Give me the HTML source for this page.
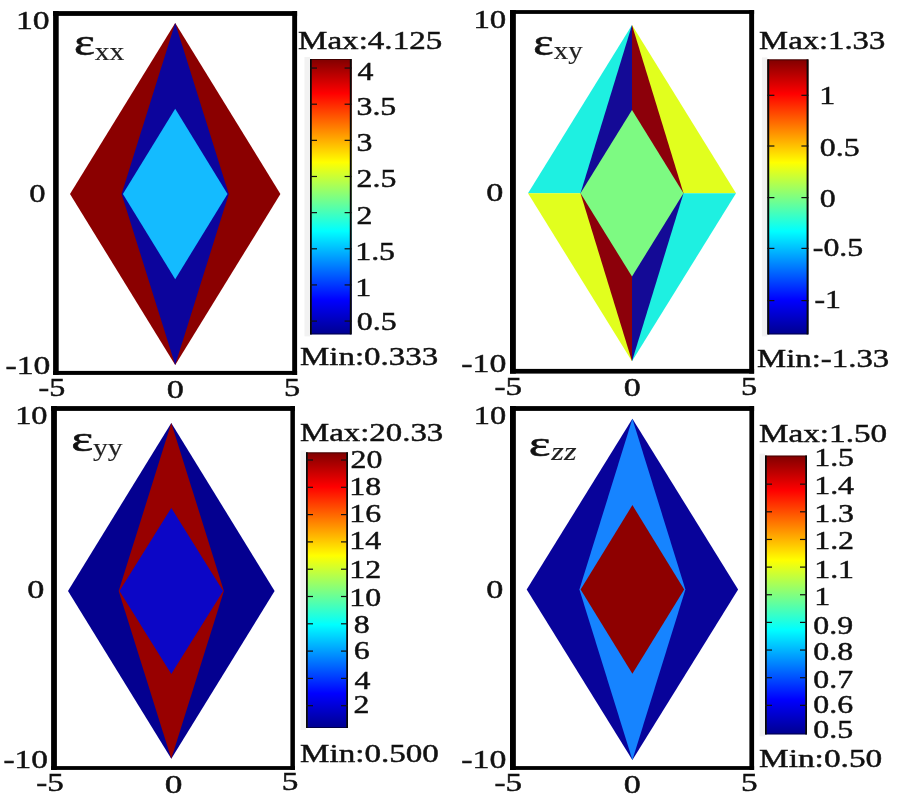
<!DOCTYPE html>
<html><head><meta charset="utf-8"><title>strain maps</title>
<style>html,body{margin:0;padding:0;background:#fff}svg{display:block;font-family:"Liberation Serif",serif}</style>
</head><body>
<svg width="900" height="800" viewBox="0 0 900 800">
<defs><linearGradient id="jet" x1="0" y1="0" x2="0" y2="1">
<stop offset="0" stop-color="#800000"/><stop offset="0.125" stop-color="#ff0000"/><stop offset="0.375" stop-color="#ffff00"/>
<stop offset="0.5" stop-color="#80ff80"/><stop offset="0.625" stop-color="#00ffff"/><stop offset="0.875" stop-color="#0000ff"/><stop offset="1" stop-color="#00008f"/>
</linearGradient></defs>
<rect width="900" height="800" fill="#fff"/>
<rect x="53.10" y="11.10" width="244.00" height="4.80" fill="#000"/>
<rect x="53.10" y="370.90" width="244.00" height="4.00" fill="#000"/>
<rect x="53.10" y="11.10" width="5.60" height="363.80" fill="#000"/>
<rect x="292.20" y="11.10" width="4.90" height="363.80" fill="#000"/>
<rect x="510.00" y="10.10" width="244.10" height="3.80" fill="#000"/>
<rect x="510.00" y="368.90" width="244.10" height="4.70" fill="#000"/>
<rect x="510.00" y="10.10" width="5.85" height="363.50" fill="#000"/>
<rect x="749.20" y="10.10" width="4.90" height="363.50" fill="#000"/>
<rect x="51.10" y="406.10" width="243.80" height="4.80" fill="#000"/>
<rect x="51.10" y="766.10" width="243.80" height="3.80" fill="#000"/>
<rect x="51.10" y="406.10" width="5.80" height="363.80" fill="#000"/>
<rect x="290.40" y="406.10" width="4.50" height="363.80" fill="#000"/>
<rect x="510.00" y="406.10" width="244.10" height="4.80" fill="#000"/>
<rect x="510.00" y="766.10" width="244.10" height="3.80" fill="#000"/>
<rect x="510.00" y="406.10" width="5.85" height="363.80" fill="#000"/>
<rect x="749.40" y="406.10" width="4.70" height="363.80" fill="#000"/>
<polygon points="175.20,23.10 280.40,194.00 175.20,364.90 70.00,194.00" fill="#8b0000"/>
<polygon points="175.20,23.10 228.80,194.00 175.20,364.90 121.60,194.00" fill="#0c049c"/>
<polygon points="175.20,108.80 227.50,194.00 175.20,279.20 122.90,194.00" fill="#14bbff"/>
<polygon points="632.00,25.10 632.00,193.20 528.00,193.20" fill="#1ef0e1"/>
<polygon points="632.00,25.10 736.00,193.20 632.00,193.20" fill="#e1ff1e"/>
<polygon points="632.00,361.30 632.00,193.20 528.00,193.20" fill="#e1ff1e"/>
<polygon points="632.00,361.30 736.00,193.20 632.00,193.20" fill="#1ef0e1"/>
<polygon points="632.00,25.10 632.00,193.20 580.50,193.20" fill="#140a96"/>
<polygon points="632.00,25.10 683.50,193.20 632.00,193.20" fill="#8c000a"/>
<polygon points="632.00,361.30 632.00,193.20 580.50,193.20" fill="#8c000a"/>
<polygon points="632.00,361.30 683.50,193.20 632.00,193.20" fill="#140a96"/>
<polygon points="632.00,109.90 683.50,193.20 632.00,276.50 580.50,193.20" fill="#7dfa82"/>
<polygon points="171.30,423.00 274.60,590.90 171.30,758.80 68.00,590.90" fill="#040090"/>
<polygon points="171.30,423.00 223.90,590.90 171.30,758.80 118.70,590.90" fill="#980000"/>
<polygon points="171.30,507.90 223.10,590.90 171.30,673.90 119.50,590.90" fill="#0c06c6"/>
<polygon points="632.40,418.80 738.10,589.40 632.40,760.00 526.70,589.40" fill="#08039a"/>
<polygon points="632.40,418.80 685.40,589.40 632.40,760.00 579.40,589.40" fill="#1684ff"/>
<polygon points="632.40,505.10 684.20,589.40 632.40,673.70 580.60,589.40" fill="#8e0000"/>
<rect x="304.50" y="57.00" width="5.50" height="279.40" fill="#f2f2f2"/>
<rect x="310.00" y="59.00" width="41.60" height="275.40" fill="url(#jet)"/>
<rect x="310.00" y="59.00" width="1.80" height="275.40" fill="#0c0c0c"/>
<rect x="349.80" y="59.00" width="1.80" height="275.40" fill="#0c0c0c"/>
<rect x="310.45" y="59.45" width="40.70" height="274.50" fill="none" stroke="#000" stroke-opacity="0.55" stroke-width="0.9"/>
<rect x="310.00" y="67.44" width="7.00" height="1.20" fill="#111"/>
<rect x="344.60" y="67.44" width="7.00" height="1.20" fill="#111"/>
<rect x="310.00" y="103.59" width="7.00" height="1.20" fill="#111"/>
<rect x="344.60" y="103.59" width="7.00" height="1.20" fill="#111"/>
<rect x="310.00" y="139.74" width="7.00" height="1.20" fill="#111"/>
<rect x="344.60" y="139.74" width="7.00" height="1.20" fill="#111"/>
<rect x="310.00" y="175.89" width="7.00" height="1.20" fill="#111"/>
<rect x="344.60" y="175.89" width="7.00" height="1.20" fill="#111"/>
<rect x="310.00" y="212.04" width="7.00" height="1.20" fill="#111"/>
<rect x="344.60" y="212.04" width="7.00" height="1.20" fill="#111"/>
<rect x="310.00" y="248.19" width="7.00" height="1.20" fill="#111"/>
<rect x="344.60" y="248.19" width="7.00" height="1.20" fill="#111"/>
<rect x="310.00" y="284.34" width="7.00" height="1.20" fill="#111"/>
<rect x="344.60" y="284.34" width="7.00" height="1.20" fill="#111"/>
<rect x="310.00" y="320.49" width="7.00" height="1.20" fill="#111"/>
<rect x="344.60" y="320.49" width="7.00" height="1.20" fill="#111"/>
<rect x="761.90" y="57.40" width="5.50" height="279.00" fill="#f2f2f2"/>
<rect x="767.40" y="59.40" width="41.00" height="275.00" fill="url(#jet)"/>
<rect x="767.40" y="59.40" width="1.80" height="275.00" fill="#0c0c0c"/>
<rect x="806.60" y="59.40" width="1.80" height="275.00" fill="#0c0c0c"/>
<rect x="767.85" y="59.85" width="40.10" height="274.10" fill="none" stroke="#000" stroke-opacity="0.55" stroke-width="0.9"/>
<rect x="767.40" y="94.70" width="7.00" height="1.20" fill="#111"/>
<rect x="801.40" y="94.70" width="7.00" height="1.20" fill="#111"/>
<rect x="767.40" y="145.40" width="7.00" height="1.20" fill="#111"/>
<rect x="801.40" y="145.40" width="7.00" height="1.20" fill="#111"/>
<rect x="767.40" y="197.00" width="7.00" height="1.20" fill="#111"/>
<rect x="801.40" y="197.00" width="7.00" height="1.20" fill="#111"/>
<rect x="767.40" y="247.80" width="7.00" height="1.20" fill="#111"/>
<rect x="801.40" y="247.80" width="7.00" height="1.20" fill="#111"/>
<rect x="767.40" y="300.00" width="7.00" height="1.20" fill="#111"/>
<rect x="801.40" y="300.00" width="7.00" height="1.20" fill="#111"/>
<rect x="300.50" y="450.40" width="5.50" height="279.60" fill="#f2f2f2"/>
<rect x="306.00" y="452.40" width="42.00" height="275.60" fill="url(#jet)"/>
<rect x="306.00" y="452.40" width="1.80" height="275.60" fill="#0c0c0c"/>
<rect x="346.20" y="452.40" width="1.80" height="275.60" fill="#0c0c0c"/>
<rect x="306.45" y="452.85" width="41.10" height="274.70" fill="none" stroke="#000" stroke-opacity="0.55" stroke-width="0.9"/>
<rect x="306.00" y="705.10" width="7.00" height="1.20" fill="#111"/>
<rect x="341.00" y="705.10" width="7.00" height="1.20" fill="#111"/>
<rect x="306.00" y="677.80" width="7.00" height="1.20" fill="#111"/>
<rect x="341.00" y="677.80" width="7.00" height="1.20" fill="#111"/>
<rect x="306.00" y="650.50" width="7.00" height="1.20" fill="#111"/>
<rect x="341.00" y="650.50" width="7.00" height="1.20" fill="#111"/>
<rect x="306.00" y="623.20" width="7.00" height="1.20" fill="#111"/>
<rect x="341.00" y="623.20" width="7.00" height="1.20" fill="#111"/>
<rect x="306.00" y="595.90" width="7.00" height="1.20" fill="#111"/>
<rect x="341.00" y="595.90" width="7.00" height="1.20" fill="#111"/>
<rect x="306.00" y="568.60" width="7.00" height="1.20" fill="#111"/>
<rect x="341.00" y="568.60" width="7.00" height="1.20" fill="#111"/>
<rect x="306.00" y="541.30" width="7.00" height="1.20" fill="#111"/>
<rect x="341.00" y="541.30" width="7.00" height="1.20" fill="#111"/>
<rect x="306.00" y="514.00" width="7.00" height="1.20" fill="#111"/>
<rect x="341.00" y="514.00" width="7.00" height="1.20" fill="#111"/>
<rect x="306.00" y="486.70" width="7.00" height="1.20" fill="#111"/>
<rect x="341.00" y="486.70" width="7.00" height="1.20" fill="#111"/>
<rect x="306.00" y="459.40" width="7.00" height="1.20" fill="#111"/>
<rect x="341.00" y="459.40" width="7.00" height="1.20" fill="#111"/>
<rect x="759.50" y="453.60" width="5.50" height="282.80" fill="#f2f2f2"/>
<rect x="765.00" y="455.60" width="42.00" height="278.80" fill="url(#jet)"/>
<rect x="765.00" y="455.60" width="1.80" height="278.80" fill="#0c0c0c"/>
<rect x="805.20" y="455.60" width="1.80" height="278.80" fill="#0c0c0c"/>
<rect x="765.45" y="456.05" width="41.10" height="277.90" fill="none" stroke="#000" stroke-opacity="0.55" stroke-width="0.9"/>
<rect x="765.00" y="483.55" width="7.00" height="1.20" fill="#111"/>
<rect x="800.00" y="483.55" width="7.00" height="1.20" fill="#111"/>
<rect x="765.00" y="511.20" width="7.00" height="1.20" fill="#111"/>
<rect x="800.00" y="511.20" width="7.00" height="1.20" fill="#111"/>
<rect x="765.00" y="538.85" width="7.00" height="1.20" fill="#111"/>
<rect x="800.00" y="538.85" width="7.00" height="1.20" fill="#111"/>
<rect x="765.00" y="566.50" width="7.00" height="1.20" fill="#111"/>
<rect x="800.00" y="566.50" width="7.00" height="1.20" fill="#111"/>
<rect x="765.00" y="594.15" width="7.00" height="1.20" fill="#111"/>
<rect x="800.00" y="594.15" width="7.00" height="1.20" fill="#111"/>
<rect x="765.00" y="621.80" width="7.00" height="1.20" fill="#111"/>
<rect x="800.00" y="621.80" width="7.00" height="1.20" fill="#111"/>
<rect x="765.00" y="649.45" width="7.00" height="1.20" fill="#111"/>
<rect x="800.00" y="649.45" width="7.00" height="1.20" fill="#111"/>
<rect x="765.00" y="677.10" width="7.00" height="1.20" fill="#111"/>
<rect x="800.00" y="677.10" width="7.00" height="1.20" fill="#111"/>
<rect x="765.00" y="704.75" width="7.00" height="1.20" fill="#111"/>
<rect x="800.00" y="704.75" width="7.00" height="1.20" fill="#111"/>
<text transform="translate(16.04,28.80) scale(1.330,1)" font-size="25.30" fill="#111" stroke="#111" stroke-width="0.45">10</text>
<text transform="translate(29.36,202.30) scale(1.287,1)" font-size="25.30" fill="#111" stroke="#111" stroke-width="0.45">0</text>
<text transform="translate(5.45,373.70) scale(1.329,1)" font-size="25.30" fill="#111" stroke="#111" stroke-width="0.45">-10</text>
<text transform="translate(473.41,27.50) scale(1.298,1)" font-size="25.30" fill="#111" stroke="#111" stroke-width="0.45">10</text>
<text transform="translate(486.20,201.00) scale(1.352,1)" font-size="25.30" fill="#111" stroke="#111" stroke-width="0.45">0</text>
<text transform="translate(461.25,371.70) scale(1.336,1)" font-size="25.30" fill="#111" stroke="#111" stroke-width="0.45">-10</text>
<text transform="translate(15.15,423.80) scale(1.280,1)" font-size="25.30" fill="#111" stroke="#111" stroke-width="0.45">10</text>
<text transform="translate(27.20,597.50) scale(1.352,1)" font-size="25.30" fill="#111" stroke="#111" stroke-width="0.45">0</text>
<text transform="translate(3.46,768.30) scale(1.320,1)" font-size="25.30" fill="#111" stroke="#111" stroke-width="0.45">-10</text>
<text transform="translate(473.85,423.70) scale(1.280,1)" font-size="25.30" fill="#111" stroke="#111" stroke-width="0.45">10</text>
<text transform="translate(486.20,597.50) scale(1.352,1)" font-size="25.30" fill="#111" stroke="#111" stroke-width="0.45">0</text>
<text transform="translate(461.25,768.30) scale(1.336,1)" font-size="25.30" fill="#111" stroke="#111" stroke-width="0.45">-10</text>
<text transform="translate(38.51,395.60) scale(1.269,1)" font-size="25.30" fill="#111" stroke="#111" stroke-width="0.45">-5</text>
<text transform="translate(166.70,397.70) scale(1.352,1)" font-size="25.30" fill="#111" stroke="#111" stroke-width="0.45">0</text>
<text transform="translate(284.12,395.60) scale(1.276,1)" font-size="25.30" fill="#111" stroke="#111" stroke-width="0.45">5</text>
<text transform="translate(494.57,395.00) scale(1.306,1)" font-size="25.30" fill="#111" stroke="#111" stroke-width="0.45">-5</text>
<text transform="translate(623.71,396.30) scale(1.343,1)" font-size="25.30" fill="#111" stroke="#111" stroke-width="0.45">0</text>
<text transform="translate(741.12,395.00) scale(1.276,1)" font-size="25.30" fill="#111" stroke="#111" stroke-width="0.45">5</text>
<text transform="translate(36.27,790.80) scale(1.306,1)" font-size="25.30" fill="#111" stroke="#111" stroke-width="0.45">-5</text>
<text transform="translate(164.65,793.00) scale(1.399,1)" font-size="25.30" fill="#111" stroke="#111" stroke-width="0.45">0</text>
<text transform="translate(281.67,790.40) scale(1.315,1)" font-size="25.30" fill="#111" stroke="#111" stroke-width="0.45">5</text>
<text transform="translate(494.57,790.80) scale(1.306,1)" font-size="25.30" fill="#111" stroke="#111" stroke-width="0.45">-5</text>
<text transform="translate(623.71,793.00) scale(1.343,1)" font-size="25.30" fill="#111" stroke="#111" stroke-width="0.45">0</text>
<text transform="translate(741.07,791.00) scale(1.315,1)" font-size="25.30" fill="#111" stroke="#111" stroke-width="0.45">5</text>
<text transform="translate(298.05,49.00) scale(1.292,1)" font-size="25.60" fill="#111" stroke="#111" stroke-width="0.45">Max:4.125</text>
<text transform="translate(300.05,365.30) scale(1.287,1)" font-size="25.60" fill="#111" stroke="#111" stroke-width="0.45">Min:0.333</text>
<text transform="translate(759.06,48.60) scale(1.277,1)" font-size="25.60" fill="#111" stroke="#111" stroke-width="0.45">Max:1.33</text>
<text transform="translate(757.05,367.00) scale(1.282,1)" font-size="25.60" fill="#111" stroke="#111" stroke-width="0.45">Min:-1.33</text>
<text transform="translate(300.05,440.70) scale(1.283,1)" font-size="25.60" fill="#111" stroke="#111" stroke-width="0.45">Max:20.33</text>
<text transform="translate(300.05,762.30) scale(1.293,1)" font-size="25.60" fill="#111" stroke="#111" stroke-width="0.45">Min:0.500</text>
<text transform="translate(759.04,441.60) scale(1.297,1)" font-size="25.60" fill="#111" stroke="#111" stroke-width="0.45">Max:1.50</text>
<text transform="translate(759.04,767.00) scale(1.303,1)" font-size="25.60" fill="#111" stroke="#111" stroke-width="0.45">Min:0.50</text>
<text transform="translate(357.38,80.00) scale(1.260,1)" font-size="25.30" fill="#111" stroke="#111" stroke-width="0.45">4</text>
<text transform="translate(356.47,114.60) scale(1.260,1)" font-size="25.30" fill="#111" stroke="#111" stroke-width="0.45">3.5</text>
<text transform="translate(356.47,151.00) scale(1.260,1)" font-size="25.30" fill="#111" stroke="#111" stroke-width="0.45">3</text>
<text transform="translate(356.60,186.50) scale(1.260,1)" font-size="25.30" fill="#111" stroke="#111" stroke-width="0.45">2.5</text>
<text transform="translate(356.60,224.00) scale(1.260,1)" font-size="25.30" fill="#111" stroke="#111" stroke-width="0.45">2</text>
<text transform="translate(355.20,260.20) scale(1.260,1)" font-size="25.30" fill="#111" stroke="#111" stroke-width="0.45">1.5</text>
<text transform="translate(355.20,296.20) scale(1.260,1)" font-size="25.30" fill="#111" stroke="#111" stroke-width="0.45">1</text>
<text transform="translate(356.79,330.00) scale(1.260,1)" font-size="25.30" fill="#111" stroke="#111" stroke-width="0.45">0.5</text>
<text transform="translate(819.20,104.40) scale(1.260,1)" font-size="25.30" fill="#111" stroke="#111" stroke-width="0.45">1</text>
<text transform="translate(819.79,156.40) scale(1.260,1)" font-size="25.30" fill="#111" stroke="#111" stroke-width="0.45">0.5</text>
<text transform="translate(819.79,207.00) scale(1.260,1)" font-size="25.30" fill="#111" stroke="#111" stroke-width="0.45">0</text>
<text transform="translate(812.82,255.50) scale(1.260,1)" font-size="25.30" fill="#111" stroke="#111" stroke-width="0.45">-0.5</text>
<text transform="translate(814.42,308.00) scale(1.260,1)" font-size="25.30" fill="#111" stroke="#111" stroke-width="0.45">-1</text>
<text transform="translate(350.60,468.40) scale(1.260,1)" font-size="25.30" fill="#111" stroke="#111" stroke-width="0.45">20</text>
<text transform="translate(349.20,495.00) scale(1.260,1)" font-size="25.30" fill="#111" stroke="#111" stroke-width="0.45">18</text>
<text transform="translate(349.20,522.40) scale(1.260,1)" font-size="25.30" fill="#111" stroke="#111" stroke-width="0.45">16</text>
<text transform="translate(349.20,549.00) scale(1.260,1)" font-size="25.30" fill="#111" stroke="#111" stroke-width="0.45">14</text>
<text transform="translate(349.20,578.40) scale(1.260,1)" font-size="25.30" fill="#111" stroke="#111" stroke-width="0.45">12</text>
<text transform="translate(349.20,606.20) scale(1.260,1)" font-size="25.30" fill="#111" stroke="#111" stroke-width="0.45">10</text>
<text transform="translate(353.79,633.00) scale(1.260,1)" font-size="25.30" fill="#111" stroke="#111" stroke-width="0.45">8</text>
<text transform="translate(353.63,658.50) scale(1.260,1)" font-size="25.30" fill="#111" stroke="#111" stroke-width="0.45">6</text>
<text transform="translate(354.38,688.50) scale(1.260,1)" font-size="25.30" fill="#111" stroke="#111" stroke-width="0.45">4</text>
<text transform="translate(353.60,713.00) scale(1.260,1)" font-size="25.30" fill="#111" stroke="#111" stroke-width="0.45">2</text>
<text transform="translate(814.20,466.40) scale(1.260,1)" font-size="25.30" fill="#111" stroke="#111" stroke-width="0.45">1.5</text>
<text transform="translate(814.20,494.00) scale(1.260,1)" font-size="25.30" fill="#111" stroke="#111" stroke-width="0.45">1.4</text>
<text transform="translate(814.20,522.00) scale(1.260,1)" font-size="25.30" fill="#111" stroke="#111" stroke-width="0.45">1.3</text>
<text transform="translate(814.20,549.00) scale(1.260,1)" font-size="25.30" fill="#111" stroke="#111" stroke-width="0.45">1.2</text>
<text transform="translate(814.20,578.40) scale(1.260,1)" font-size="25.30" fill="#111" stroke="#111" stroke-width="0.45">1.1</text>
<text transform="translate(814.20,605.00) scale(1.260,1)" font-size="25.30" fill="#111" stroke="#111" stroke-width="0.45">1</text>
<text transform="translate(813.29,634.00) scale(1.260,1)" font-size="25.30" fill="#111" stroke="#111" stroke-width="0.45">0.9</text>
<text transform="translate(813.29,660.30) scale(1.260,1)" font-size="25.30" fill="#111" stroke="#111" stroke-width="0.45">0.8</text>
<text transform="translate(813.29,688.00) scale(1.260,1)" font-size="25.30" fill="#111" stroke="#111" stroke-width="0.45">0.7</text>
<text transform="translate(813.29,713.00) scale(1.260,1)" font-size="25.30" fill="#111" stroke="#111" stroke-width="0.45">0.6</text>
<text transform="translate(813.29,737.60) scale(1.260,1)" font-size="25.30" fill="#111" stroke="#111" stroke-width="0.45">0.5</text>
<text transform="translate(73.89,55.43) scale(1.305,1)" font-size="38.05" fill="#111" stroke="#111" stroke-width="0.55">ε</text>
<text transform="translate(94.74,59.80) scale(1.162,1)" font-size="25.50" fill="#222" stroke="#222" stroke-width="0.15">xx</text>
<text transform="translate(533.14,54.94) scale(1.303,1)" font-size="37.01" fill="#111" stroke="#111" stroke-width="0.55">ε</text>
<text transform="translate(553.75,59.30) scale(1.132,1)" font-size="25.50" fill="#222" stroke="#222" stroke-width="0.15">xy</text>
<text transform="translate(71.29,451.34) scale(1.418,1)" font-size="36.80" fill="#111" stroke="#111" stroke-width="0.55">ε</text>
<text transform="translate(92.94,455.70) scale(1.164,1)" font-size="25.50" fill="#222" stroke="#222" stroke-width="0.15">yy</text>
<text transform="translate(528.81,455.94) scale(1.411,1)" font-size="36.59" fill="#111" stroke="#111" stroke-width="0.55">ε</text>
<text transform="translate(551.36,460.30) scale(1.263,1)" font-size="25.50" font-style="italic" fill="#222" stroke="#222" stroke-width="0.15">zz</text>
</svg>
</body></html>
